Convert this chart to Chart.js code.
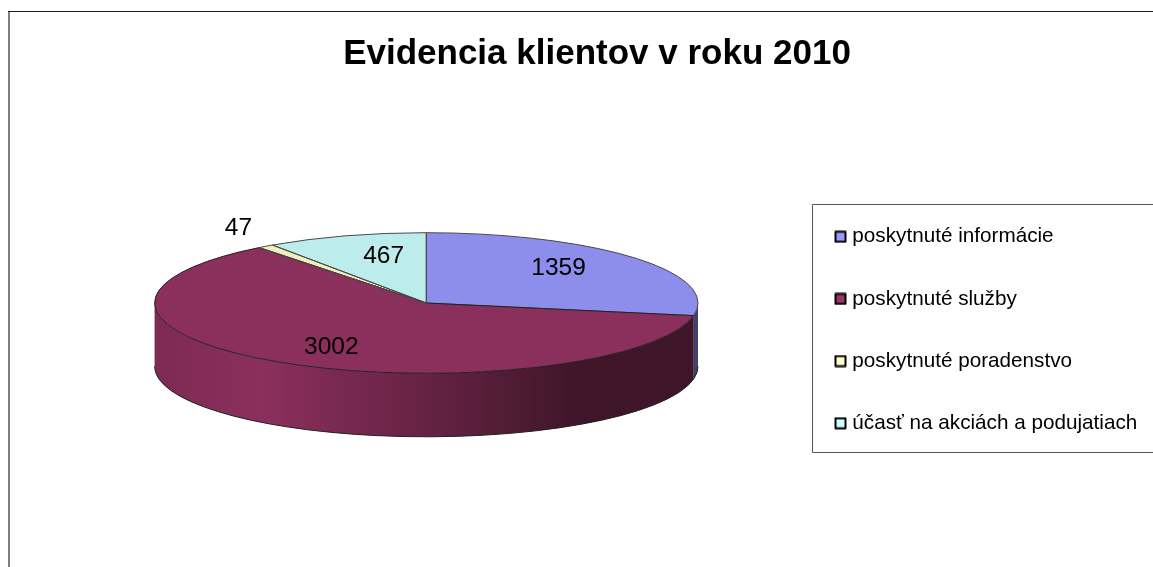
<!DOCTYPE html>
<html>
<head>
<meta charset="utf-8">
<style>html,body{margin:0;padding:0;background:#fff;overflow:hidden}canvas{display:block}</style>
<script src="https://cdn.jsdelivr.net/npm/chart.js@4"></script>
</head>
<body>
<canvas id="c" width="1153" height="567"></canvas>
<script>
const titleText = 'Evidencia klientov v roku 2010';
const categories = ['poskytnuté informácie', 'poskytnuté služby', 'poskytnuté poradenstvo', 'účasť na akciách a podujatiach'];
const values = [1359, 3002, 47, 467];
const sliceColors = ['#8d8deb', '#8b2f5c', '#f1efbe', '#bcedec'];
const legendColors = ['#9999ff', '#993366', '#ffffcc', '#ccffff'];
// label placement as a fraction of the ellipse radii along each slice's mid-angle
const labelRadial = [[0.634, 0.77], [0.675, 0.73], [1.17, 1.32], [0.53, 0.70]];

const FONT = '"Liberation Sans", Arial, sans-serif';
const LEGEND_SIZE = 20.7, TITLE_SIZE = 35, LABEL_SIZE = 24.5;
const PIE = {cx: 426.3, cy: 303, rx: 271.7, ry: 70.3, depth: 63.5};

function swatch(color) {
  const s = document.createElement('canvas');
  s.width = 13; s.height = 13;
  const g = s.getContext('2d');
  g.fillStyle = color; g.fillRect(1.5, 1.5, 10, 10);
  g.strokeStyle = '#000'; g.lineWidth = 2; g.lineJoin = 'round'; g.strokeRect(1.5, 1.5, 10, 10);
  return s;
}

const pie3d = {
  id: 'pie3d',
  beforeDraw(chart) {
    const c = chart.ctx;
    c.save();
    c.fillStyle = '#fff'; c.fillRect(0, 0, chart.width, chart.height);
    c.fillStyle = '#808080'; c.fillRect(8, 11, 2, chart.height - 11);
    c.fillStyle = '#1a1a1a'; c.fillRect(8, 11, chart.width - 8, 1);
    c.strokeStyle = '#555'; c.lineWidth = 1;
    c.beginPath(); c.moveTo(1153.5, 204.5); c.lineTo(812.5, 204.5); c.lineTo(812.5, 452.5); c.lineTo(1153.5, 452.5); c.stroke();
    c.restore();
  },
  afterLayout(chart) {
    const l = chart.legend, t = chart.titleBlock;
    const p = l.options.labels.padding;
    const w = l.width, h = l.height;
    l.left = 839 - p; l.right = l.left + w;
    l.top = 236.7 - LEGEND_SIZE / 2 - p; l.bottom = l.top + h;
    t.top = 0; t.bottom = t.height;
  },
  beforeDatasetDraw(chart) {
    const c = chart.ctx, arcs = chart.getDatasetMeta(0).data, P = PIE;
    c.save();
    const dark = c.createLinearGradient(P.cx - P.rx, 0, P.cx + P.rx, 0);
    dark.addColorStop(0, 'rgba(0,0,0,0.10)');
    dark.addColorStop(0.2, 'rgba(0,0,0,0.0)');
    dark.addColorStop(0.5, 'rgba(0,0,0,0.27)');
    dark.addColorStop(0.78, 'rgba(0,0,0,0.55)');
    dark.addColorStop(1, 'rgba(0,0,0,0.55)');
    arcs.forEach((a, i) => {
      const s = Math.max(a.startAngle, 0), e = Math.min(a.endAngle, Math.PI);
      if (e <= s) return;
      c.beginPath();
      c.ellipse(P.cx, P.cy, P.rx, P.ry, 0, s, e);
      c.ellipse(P.cx, P.cy + P.depth, P.rx, P.ry, 0, e, s, true);
      c.closePath();
      c.fillStyle = sliceColors[i]; c.fill();
      c.fillStyle = dark; c.fill();
      c.beginPath();
      c.ellipse(P.cx, P.cy + P.depth, P.rx, P.ry, 0, s, e);
      c.strokeStyle = '#222'; c.lineWidth = 1; c.stroke();
    });
    c.restore();
    const a0 = arcs[0];
    c.save();
    c.translate(P.cx, P.cy);
    c.scale(P.rx / a0.outerRadius, P.ry / a0.outerRadius);
    c.translate(-a0.x, -a0.y);
  },
  afterDatasetDraw(chart) {
    const c = chart.ctx, arcs = chart.getDatasetMeta(0).data, P = PIE;
    c.restore();
    c.save();
    c.lineWidth = 1;
    arcs.forEach(a => {
      c.beginPath();
      c.moveTo(P.cx, P.cy);
      c.ellipse(P.cx, P.cy, P.rx, P.ry, 0, a.startAngle, a.endAngle);
      c.closePath();
      c.strokeStyle = Math.sin((a.startAngle + a.endAngle) / 2) > 0 ? '#222' : '#4a4a4a';
      c.stroke();
    });
    c.fillStyle = '#000';
    c.font = LABEL_SIZE + 'px ' + FONT;
    c.textAlign = 'center'; c.textBaseline = 'middle';
    arcs.forEach((a, i) => {
      const m = (a.startAngle + a.endAngle) / 2;
      c.fillText(String(values[i]),
        P.cx + P.rx * Math.cos(m) * labelRadial[i][0],
        P.cy + P.ry * Math.sin(m) * labelRadial[i][1]);
    });
    c.restore();
  }
};

new Chart(document.getElementById('c'), {
  type: 'pie',
  data: {
    labels: categories,
    datasets: [{data: values, backgroundColor: sliceColors, borderWidth: 0, hoverOffset: 0}]
  },
  options: {
    responsive: false,
    animation: false,
    events: [],
    layout: {padding: {left: 41}},
    plugins: {
      tooltip: {enabled: false},
      title: {
        display: true, text: titleText, color: '#000',
        font: {family: FONT, size: TITLE_SIZE, weight: 'bold', lineHeight: 1.2},
        padding: {top: 33, bottom: 10}
      },
      legend: {
        position: 'right', align: 'start',
        labels: {
          color: '#000',
          font: {family: FONT, size: LEGEND_SIZE},
          padding: 41.5,
          usePointStyle: true,
          pointStyleWidth: 3,
          boxHeight: 11,
          generateLabels: () => categories.map((t, i) => ({
            text: t, pointStyle: swatch(legendColors[i]), fillStyle: legendColors[i],
            strokeStyle: '#000', lineWidth: 2, hidden: false, index: i
          }))
        }
      }
    }
  },
  plugins: [pie3d]
});
</script>
</body>
</html>
